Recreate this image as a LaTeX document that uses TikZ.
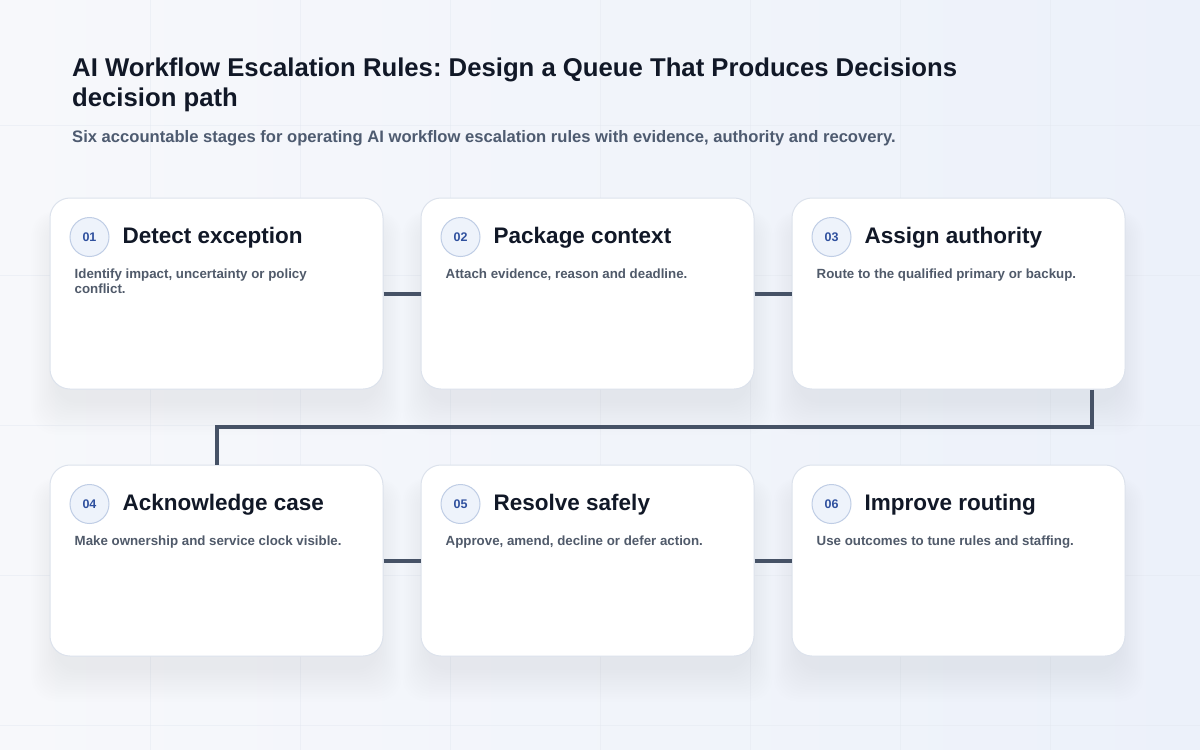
\documentclass[tikz,border=0pt]{standalone}
\usepackage{fontspec}
\setmainfont{Liberation Sans}
\frenchspacing
\usetikzlibrary{calc,positioning}
\definecolor{bgA}{HTML}{F7F8FB}
\definecolor{bgB}{HTML}{ECF1FA}
\definecolor{gridc}{HTML}{E3E8F0}
\definecolor{titlec}{HTML}{111827}
\definecolor{subc}{HTML}{4E5B70}
\definecolor{descc}{HTML}{505A6A}
\definecolor{cardborder}{HTML}{DCE2EC}
\definecolor{circfill}{HTML}{EEF3FB}
\definecolor{circdraw}{HTML}{BFCDE5}
\definecolor{numc}{HTML}{2F509E}
\definecolor{linkc}{HTML}{465266}
\definecolor{shadowc}{HTML}{2A3F6A}
\tikzset{
  card/.style={draw=cardborder, line width=1pt, fill=white, rounded corners=20pt,
    minimum width=333pt, minimum height=191pt, inner sep=0pt},
  numcirc/.style={circle, draw=circdraw, line width=1pt, fill=circfill,
    minimum size=39pt, inner sep=0pt, text=numc, font=\fontsize{12.5}{12.5}\selectfont\bfseries},
  cardtitle/.style={anchor=base west, inner sep=0pt, text=titlec, font=\fontsize{22.5}{26}\selectfont\bfseries},
  carddesc/.style={anchor=base west, inner sep=0pt, text=descc,
    font=\fontsize{13.3}{15.5}\selectfont\bfseries},
  link/.style={draw=linkc, line width=4pt},
}
\newcommand{\cardshadow}[2]{%
  \foreach \i in {1,...,14}{
    \fill[shadowc, fill opacity=0.0055, rounded corners=24pt]
      ($(#1,#2)+(-160-\i*1.8,-95.5+24-\i*0.8)$) rectangle ($(#1,#2)+(160+\i*1.8,95.5+12+\i*2.4)$);
  }%
}
\newcommand{\mkcard}[6]{% name, cx, cy, num, title, desc
  \cardshadow{#2}{#3}
  \node[card] (#1) at (#2,#3) {};
  \node[numcirc] (#1n) at ($(#1.north west)+(40,39.5)$) {#4};
  \node[cardtitle] (#1t) at ($(#1.north west)+(73,46)$) {#5};
  \node[carddesc] (#1d) at ($(#1.north west)+(25,80.5)$)
    {\parbox[t]{290pt}{\fontsize{13.3}{15.5}\selectfont\bfseries\raggedright #6}};
}
\begin{document}
\begin{tikzpicture}[x=1pt,y=-1pt]
\useasboundingbox (0,0) rectangle (1200,750);
\shade[shading angle=135, left color=bgA, right color=bgB] (0,0) rectangle (1200,750);
\foreach \gx in {150,300,...,1050}{
  \draw[gridc, line width=0.6pt, opacity=0.45] (\gx,0) -- (\gx,750);
}
\foreach \gy in {125,275,...,725}{
  \draw[gridc, line width=0.6pt, opacity=0.45] (0,\gy) -- (1200,\gy);
}
\node[anchor=base west, inner sep=0pt, text=titlec] (title) at (72,76)
  {\parbox[t]{1000pt}{\fontsize{25.7}{30}\selectfont\bfseries AI Workflow Escalation Rules: Design a Queue That Produces Decisions\\decision path}};
\node[anchor=base west, inner sep=0pt, text=subc,
  font=\fontsize{16.6}{18}\selectfont\bfseries] (subtitle) at (72,142)
  {Six accountable stages for operating AI workflow escalation rules with evidence, authority and recovery.};

\mkcard{c1}{216.5}{293.5}{01}{Detect exception}{Identify impact, uncertainty or policy\\conflict.}
\mkcard{c2}{587.5}{293.5}{02}{Package context}{Attach evidence, reason and deadline.}
\mkcard{c3}{958.5}{293.5}{03}{Assign authority}{Route to the qualified primary or backup.}
\mkcard{c4}{216.5}{560.5}{04}{Acknowledge case}{Make ownership and service clock visible.}
\mkcard{c5}{587.5}{560.5}{05}{Resolve safely}{Approve, amend, decline or defer action.}
\mkcard{c6}{958.5}{560.5}{06}{Improve routing}{Use outcomes to tune rules and staffing.}

\draw[link] (c1.east) -- (c2.west);
\draw[link] (c2.east) -- (c3.west);
\draw[link] (c4.east) -- (c5.west);
\draw[link] (c5.east) -- (c6.west);
\coordinate (s3) at ($(c3.south east)+(-34,0)$);
\coordinate (mid) at (0,427);
\draw[link] (s3) -- (s3 |- mid) -| (c4.north);
\end{tikzpicture}
\end{document}
